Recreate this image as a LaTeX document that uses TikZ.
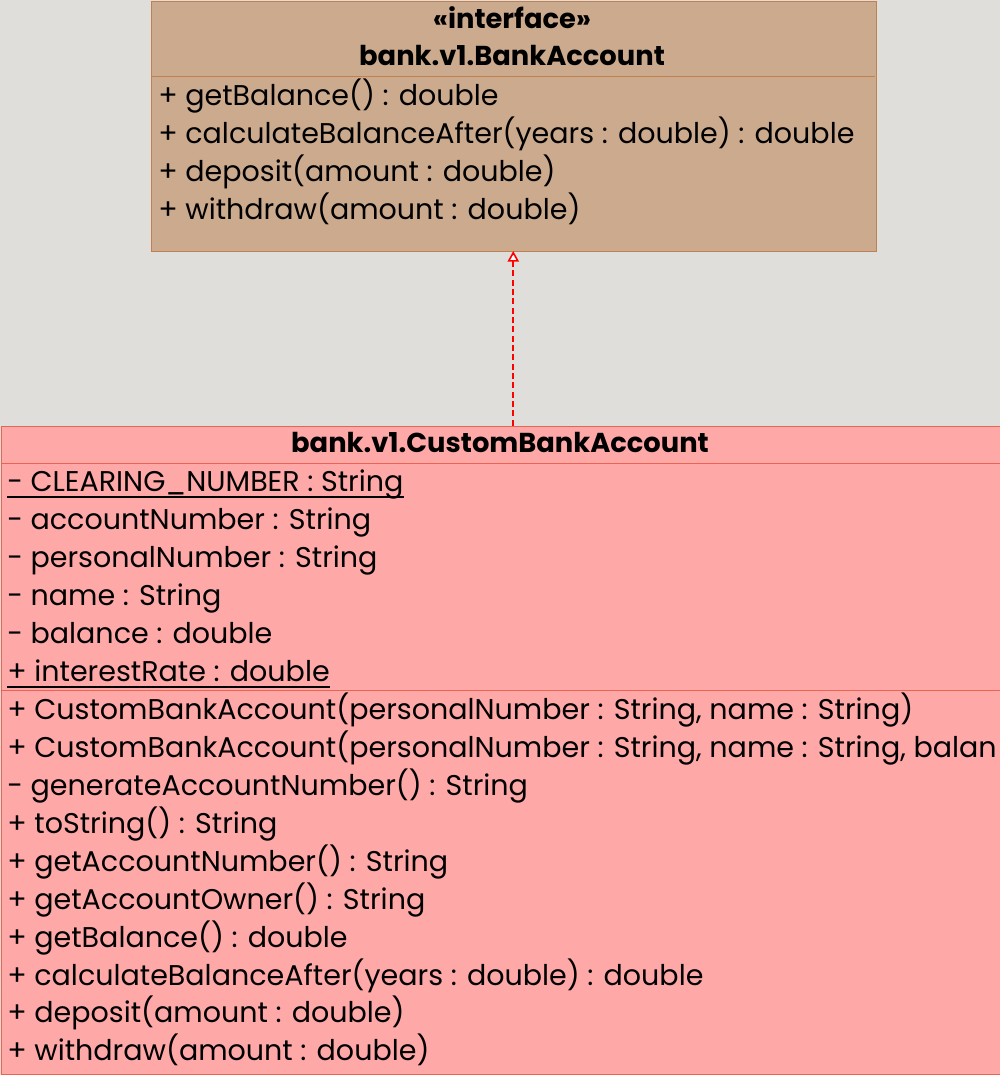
\documentclass[tikz,border=0pt]{standalone}
\usepackage{fontspec}
\setmainfont{Poppins}
\usetikzlibrary{arrows.meta,positioning}
\definecolor{bgcol}{HTML}{DFDEDA}
\definecolor{ifill}{HTML}{CCAA8E}
\definecolor{iline}{HTML}{C0804F}
\definecolor{cfill}{HTML}{FFA8A8}
\definecolor{cline}{HTML}{EA6452}
\definecolor{rline}{HTML}{FF0000}
\tikzset{
  box/.style={rectangle,inner sep=0pt,anchor=north west},
  mem/.style={anchor=base west,inner sep=0pt,font=\fontsize{21.4}{21}\selectfont},
  ttl/.style={anchor=base,inner sep=0pt,font=\fontsize{20.5}{21}\selectfont\bfseries},
  uline/.style={line width=1.4pt},
  real/.style={color=rline,line width=1.2pt,dash pattern=on 4.5pt off 2.5pt},
}
\begin{document}
\begin{tikzpicture}[x=0.75pt,y=-0.75pt]
\fill[bgcol] (0,0) rectangle (1000,1075);
\useasboundingbox (0,0) rectangle (1000,1075);
% interface
\node[box,fill=ifill,draw=iline,minimum width=543.75pt,minimum height=187.5pt] (ba) at (150.5,0.5) {};
\draw[iline] (150.5,76) -- (874.5,76);
\node[ttl] (st) at (512,28) {«interface»};
\node[ttl] (bn) at (512,65) {bank.v1.BankAccount};
\node[mem] (b1) at (158,105) {+ getBalance() : double};
\node[mem] (b2) at (158,143) {+ calculateBalanceAfter(years : double) : double};
\node[mem] (b3) at (158,181) {+ deposit(amount : double)};
\node[mem] (b4) at (158,219) {+ withdraw(amount : double)};
% class
\node[box,fill=cfill,draw=cline,minimum width=749.25pt,minimum height=486pt] (cba) at (0.5,425.5) {};
\draw[cline] (0.5,463) -- (999.5,463);
\draw[cline] (0.5,690) -- (999.5,690);
\node[ttl] (cn) at (500,452) {bank.v1.CustomBankAccount};
\node[mem] (a1) at (7,491) {- CLEARING\_NUMBER : String};
\node[mem] (a2) at (7,529) {- accountNumber : String};
\node[mem] (a3) at (7,567) {- personalNumber : String};
\node[mem] (a4) at (7,605) {- name : String};
\node[mem] (a5) at (7,643) {- balance : double};
\node[mem] (a6) at (7,681) {+ interestRate : double};
\draw[uline] ([yshift=-4.5pt]a1.base west) -- ([yshift=-4.5pt]a1.base east);
\draw[uline] ([yshift=-4.5pt]a6.base west) -- ([yshift=-4.5pt]a6.base east);
\node[mem] (m1) at (7,719) {+ CustomBankAccount(personalNumber : String, name : String)};
\node[mem] (m2) at (7,757) {+ CustomBankAccount(personalNumber : String, name : String, balan};
\node[mem] (m3) at (7,795) {- generateAccountNumber() : String};
\node[mem] (m4) at (7,833) {+ toString() : String};
\node[mem] (m5) at (7,871) {+ getAccountNumber() : String};
\node[mem] (m6) at (7,909) {+ getAccountOwner() : String};
\node[mem] (m7) at (7,947) {+ getBalance() : double};
\node[mem] (m8) at (7,985) {+ calculateBalanceAfter(years : double) : double};
\node[mem] (m9) at (7,1022) {+ deposit(amount : double)};
\node[mem] (m10) at (7,1060) {+ withdraw(amount : double)};
% realization
\draw[real,-{Triangle[open,fill=white,length=8pt,width=8.5pt]}] (ba.south |- cba.north) -- (ba.south);
\end{tikzpicture}
\end{document}
